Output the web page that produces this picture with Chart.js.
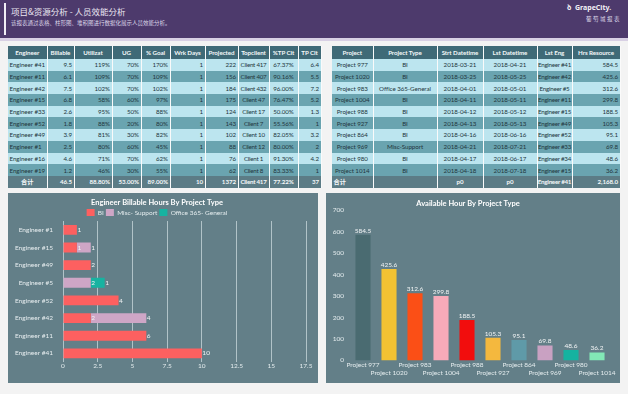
<!DOCTYPE html>
<html><head><meta charset="utf-8">
<script src="https://cdn.jsdelivr.net/npm/chart.js@4/dist/chart.umd.min.js"></script>
<style>
html,body{margin:0;padding:0;}
body{width:628px;height:394px;background:#f3f3f3;position:relative;overflow:hidden;font-family:'Lato','Noto Sans CJK SC',sans-serif;}
#hdr{position:absolute;left:0;top:0;width:628px;height:38px;background:#4d3a6c;border-bottom:3px solid #d8d0e4;}
#vbar{position:absolute;left:4px;top:3px;width:1.5px;height:32px;background:#f0eef5;}
#ttl{position:absolute;left:11px;top:5px;font-size:8.5px;color:#ece8f3;font-family:'Noto Sans CJK SC',sans-serif;white-space:nowrap;}
#sub{position:absolute;left:11px;top:19px;font-size:5.5px;color:#dcd6e8;font-family:'Noto Sans CJK SC',sans-serif;white-space:nowrap;}
#logo1{position:absolute;left:567px;top:3px;font-size:7px;font-weight:bold;color:#f2f0f6;white-space:nowrap;font-family:'Noto Sans',sans-serif;}
#logo2{position:absolute;left:586px;top:15px;font-size:5.5px;color:#dcd6e8;font-family:'Noto Sans CJK SC',sans-serif;white-space:nowrap;letter-spacing:1.5px;}
table{position:absolute;border-collapse:collapse;table-layout:fixed;font-size:6.2px;letter-spacing:-0.05px;}
td,th{padding:0 1.5px;white-space:nowrap;overflow:hidden;border-right:1px solid rgba(255,255,255,0.55);color:#22363d;font-weight:normal;}
th{background:#3f6a77;color:#f4f8f9;font-weight:bold;height:13px;text-align:center;}
tr.l td{background:#bce5ef;height:11.7px;}
tr.d td{background:#6aa4b0;height:11.7px;}
tr.t td{background:#5c7c86;color:#f4f8f9;font-weight:bold;height:12px;}
.r{text-align:right}.c{text-align:center}.lft{text-align:left}
.cn{text-align:center;padding:0;letter-spacing:-0.25px;}
.panel{position:absolute;background:#637f88;}
</style></head><body>
<div id="hdr"><div id="vbar"></div>
<div id="ttl">项目&amp;资源分析 - 人员效能分析</div>
<div id="sub">该报表通过表格、柱形图、堆积图进行数据化展示人员效能分析。</div>
<div id="logo1">ꝺ&nbsp; GrapeCity.</div>
<div id="logo2">葡萄城报表</div>
</div>
<table id="t1" style="left:8px;top:46px;width:313px;"></table>
<table id="t2" style="left:332px;top:46px;width:288px;"></table>
<div class="panel" style="left:8px;top:193px;width:310px;height:190px;"><canvas id="c1" width="310" height="190"></canvas></div>
<div class="panel" style="left:326px;top:193px;width:294px;height:190px;"><canvas id="c2" width="294" height="190"></canvas></div>
<script>
// ---- Table 1 data ----
const engHeaders = ['Engineer','Billable','Utilizat','UG','% Goal','Wrk Days','Projected','Topclient','%TP Clt','TP Clt'];
const engNames = ['Engineer #41','Engineer #11','Engineer #42','Engineer #15','Engineer #33','Engineer #52','Engineer #49','Engineer #1','Engineer #16','Engineer #19'];
const engBillable = ['9.5','6.1','7.5','6.8','2.6','1.8','3.9','2.5','4.6','1.2'];
const engUtil = ['119%','109%','102%','58%','95%','88%','81%','80%','71%','46%'];
const engUG = ['70%','70%','70%','60%','50%','20%','30%','60%','70%','30%'];
const engGoal = ['170%','109%','102%','97%','88%','80%','82%','45%','62%','55%'];
const engDays = ['1','1','1','1','1','1','1','1','1','1'];
const engProjected = ['222','156','184','175','124','143','102','88','76','62'];
const engTopClient = ['Client 417','Client 407','Client 432','Client 47','Client 17','Client 7','Client 10','Client 12','Client 1','Client 8'];
const engTPPct = ['67.37%','90.16%','96.00%','76.47%','50.00%','55.56%','82.05%','80.00%','91.30%','83.33%'];
const engTP = ['6.4','5.5','7.2','5.2','1.3','1','3.2','2','4.2','1'];
const engTotal = ['合计','46.5','88.80%','53.00%','89.00%','10','1372','Client 417','77.22%','37'];

// ---- Table 2 data ----
const projHeaders = ['Project','Project Type','Strt Datetime','Lst Datetime','Lst Eng','Hrs Resource'];
const projNames = ['Project 977','Project 1020','Project 983','Project 1004','Project 988','Project 927','Project 864','Project 969','Project 980','Project 1014'];
const projTypes = ['BI','BI','Office 365-General','BI','BI','BI','BI','Misc-Support','BI','BI'];
const projStart = ['2018-03-21','2018-03-25','2018-04-01','2018-04-11','2018-04-12','2018-04-13','2018-04-16','2018-04-21','2018-04-17','2018-04-18'];
const projEnd = ['2018-04-21','2018-05-25','2018-05-01','2018-05-11','2018-05-12','2018-05-13','2018-06-16','2018-07-21','2018-06-17','2018-07-18'];
const projEng = ['Engineer #41','Engineer #42','Engineer #5','Engineer #11','Engineer #15','Engineer #49','Engineer #52','Engineer #33','Engineer #34','Engineer #15'];
const projHours = [584.5,425.6,312.6,299.8,188.5,105.3,95.1,69.8,48.6,36.2];
const projTotal = ['合计','','p0','p0','Engineer #41','2,168.0'];

// ---- Chart 1 data ----
const stackCats = ['Engineer #1','Engineer #15','Engineer #49','Engineer #5','Engineer #52','Engineer #42','Engineer #11','Engineer #41'];
const biHours = [1,1,2,null,4,2,6,10];
const miscHours = [null,1,null,2,null,4,null,null];
const officeHours = [null,null,null,1,null,null,null,null];
const xTicks = [0,2.5,5,7.5,10,12.5,15,17.5];

// ---- Chart 2 colours ----
const barColors = ['#4a6b71','#f2c233','#fb4f16','#f7aab9','#f20d0d','#f4b83e','#5f9aa8','#c9a1c2','#15b3a0','#82e8b6'];

function buildTable(id, headers, cols, aligns, widths, total, totalAligns){
  const t = document.getElementById(id);
  let h = '<colgroup>' + widths.map(w=>`<col style="width:${w}px">`).join('') + '</colgroup>';
  h += '<tr>' + headers.map(x=>`<th>${x}</th>`).join('') + '</tr>';
  const n = cols[0].length;
  for(let i=0;i<n;i++){
    h += `<tr class="${i%2?'d':'l'}">` + cols.map((c,j)=>`<td class="${aligns[j]}">${c[i]}</td>`).join('') + '</tr>';
  }
  h += '<tr class="t">' + total.map((x,j)=>`<td class="${totalAligns[j]}">${x}</td>`).join('') + '</tr>';
  t.innerHTML = h;
}
buildTable('t1', engHeaders,
  [engNames,engBillable,engUtil,engUG,engGoal,engDays,engProjected,engTopClient,engTPPct,engTP],
  ['lft','r','r','r','r','r','r','cn','c','r'],
  [39,27,38,29,29,35,33,31,29,23], engTotal,
  ['c','r','r','r','r','r','r','cn','c','r']);
buildTable('t2', projHeaders,
  [projNames,projTypes,projStart,projEnd,projEng,projHours.map(v=>v.toFixed(1))],
  ['c','c','c','c','cn','r'],
  [41,64,46,54,35,48], projTotal,
  ['lft','c','c','c','cn','r']);

Chart.defaults.font.family = "'Lato', sans-serif";
const barLabels = {
  id:'barLabels',
  afterDatasetsDraw(chart){
    const ctx = chart.ctx;
    const horiz = chart.options.indexAxis === 'y';
    ctx.save();
    ctx.font = "6.5px 'Lato'";
    ctx.fillStyle = '#f2f4f5';
    chart.data.datasets.forEach((ds,di)=>{
      const meta = chart.getDatasetMeta(di);
      meta.data.forEach((el,i)=>{
        const v = ds.data[i];
        if(v==null) return;
        if(horiz){ctx.textAlign='left';ctx.textBaseline='middle';ctx.fillText(String(v), el.x+0.5, el.y);}
        else{ctx.textAlign='center';ctx.textBaseline='bottom';ctx.fillText(v.toFixed(1), el.x, el.y-1);}
      });
    });
    ctx.restore();
  }
};
// trims the empty space under the legend row
const tightLegend = {
  id:'tightLegend',
  beforeLayout(chart){
    const lg = chart.legend;
    if(lg && !lg._tight){
      const orig = lg.fit.bind(lg);
      lg.fit = function(){ orig(); this.height = Math.max(0, this.height - 5); };
      lg._tight = true;
    }
  }
};

new Chart(document.getElementById('c1'), {
  type:'bar',
  data:{labels:stackCats, datasets:[
    {label:'BI', data:biHours, backgroundColor:'#fd6060', borderWidth:0},
    {label:'Misc- Support', data:miscHours, backgroundColor:'#cea6c6', borderWidth:0},
    {label:'Office 365- General', data:officeHours, backgroundColor:'#17b3a1', borderWidth:0}
  ]},
  options:{
    indexAxis:'y', responsive:false, animation:false,
    barPercentage:0.56, categoryPercentage:1,
    layout:{padding:{left:0,right:12,top:0,bottom:13}},
    scales:{
      x:{stacked:true,min:0,max:17.5,
         afterBuildTicks:(s)=>{s.ticks = xTicks.map(v=>({value:v}));},
         ticks:{color:'#e4ecee',font:{size:6.5},padding:0,maxRotation:0},
         grid:{color:'rgba(220,232,235,0.65)',drawTicks:false,lineWidth:1},
         border:{display:false}},
      y:{stacked:true, afterFit:(s)=>{s.width=55;},
         ticks:{color:'#e8eef0',font:{size:6.5},padding:2},
         grid:{display:false}, border:{display:false}}
    },
    plugins:{
      title:{display:true,text:'Engineer Billable Hours By Project Type',color:'#ffffff',font:{size:7.5,weight:'bold'},padding:{top:5,bottom:0}},
      legend:{labels:{boxWidth:8,boxHeight:7,color:'#e4ecee',font:{size:6.5},padding:2}},
      tooltip:{enabled:false}
    }
  },
  plugins:[barLabels, tightLegend]
});

new Chart(document.getElementById('c2'), {
  type:'bar',
  data:{labels:projNames, datasets:[{label:'Hrs Resource', data:projHours, backgroundColor:barColors, borderWidth:0}]},
  options:{
    responsive:false, animation:false,
    barPercentage:0.58, categoryPercentage:1,
    layout:{padding:{left:0,right:10,top:0,bottom:5}},
    scales:{
      x:{ticks:{color:'#e4ecee',font:{size:6.5},maxRotation:0,autoSkip:false,padding:1,
           callback:function(v,i){const s=this.getLabelForValue(v);return i%2?['',s]:s;}},
         grid:{display:false,drawTicks:false}, border:{display:false}},
      y:{min:0,max:700, afterFit:(s)=>{s.width=24;},
         ticks:{stepSize:100,color:'#e4ecee',font:{size:6.5},padding:-2},
         grid:{display:false}, border:{display:false}}
    },
    plugins:{
      title:{display:true,text:'Available Hour By Project Type',color:'#ffffff',font:{size:7.5,weight:'bold'},padding:{top:6,bottom:2}},
      legend:{display:false}, tooltip:{enabled:false}
    }
  },
  plugins:[barLabels]
});
</script>
</body></html>
